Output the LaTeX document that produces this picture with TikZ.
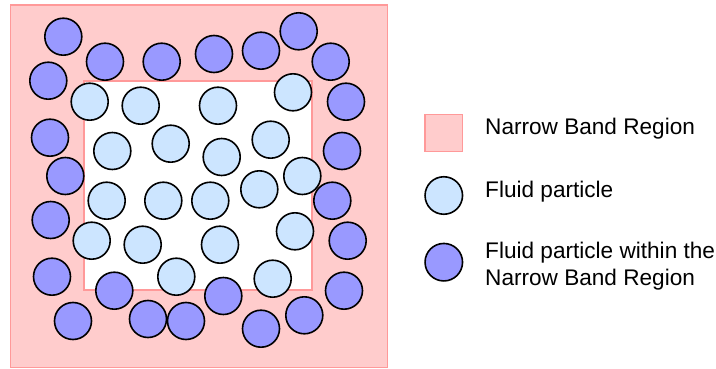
\documentclass[tikz,border=0pt]{standalone}
\usepackage{fontspec}
\setmainfont{Liberation Sans}
\definecolor{bandfill}{HTML}{FFCCCC}
\definecolor{bandline}{HTML}{FF9999}
\definecolor{fluidfill}{HTML}{CCE5FF}
\definecolor{nbfill}{HTML}{9999FF}

\begin{document}
\begin{tikzpicture}[x=1pt,y=-1pt,
		band/.style={rectangle,draw=bandline,fill=bandfill,line width=1.3pt},
		particle/.style={circle,draw=black,line width=1.6pt,inner sep=0pt,minimum size=37pt},
		fluid/.style={particle,fill=fluidfill},
		nbfluid/.style={particle,fill=nbfill},
		keytext/.style={inner sep=0pt,font=\fontsize{22.6}{27}\selectfont}]
		\useasboundingbox (0,0) rectangle (716,369);
		
		\draw[band] (10.7,5) rectangle (387.7,367.7);
		\draw[draw=bandline,fill=white,line width=1.3pt] (84,81) rectangle (312,290);
		
		\foreach \x/\y [count=\i] in {89.7/101.7, 140.7/105.7, 218/105.7, 293/92.3,
			112.3/151, 170.7/143.7, 221.7/157, 270.7/139.7, 302.3/176,
			106.7/200.7, 163.3/200.7, 210.3/200.7, 259.3/189.3, 295/231.3,
			91.7/240.7, 142.7/244.7, 220/244.7, 176.3/276.7, 272.7/278.7}
		\node[fluid] (f\i) at (\x,\y) {};
		
		\foreach \x/\y [count=\i] in {63.3/36.7, 105/61.7, 48.3/80.7, 161.7/61.7,
			214/54, 261/50.7, 298.7/31.3, 330.7/61.7, 346/101.7, 50/137.7,
			342/151, 65.3/176, 332.3/200.7, 50.7/220, 347.7/240.7, 52/276.7,
			114.3/290.7, 344/290.7, 73/321, 148/319, 186/321, 223.3/296,
			261/328.7, 304.3/315.3}
		\node[nbfluid] (n\i) at (\x,\y) {};
		
		\node[band,inner sep=0pt,minimum size=37.5pt] (keyband)  at (443.8,133)   {};
		\node[fluid,minimum size=37.5pt]              (keyfluid) at (443.8,195.5) {};
		\node[nbfluid,minimum size=37.5pt]            (keynb)    at (443.8,262.2) {};
		
		\node[keytext,anchor=base west] (txtband)  at (485,134.3) {Narrow Band Region};
		\node[keytext,anchor=base west] (txtfluid) at (485,197.6) {Fluid particle};
		\node[keytext,anchor=north west,align=left] (txtnb) at (485,241.5)
		{Fluid particle within the\\Narrow Band Region};
\end{tikzpicture}
\end{document}
